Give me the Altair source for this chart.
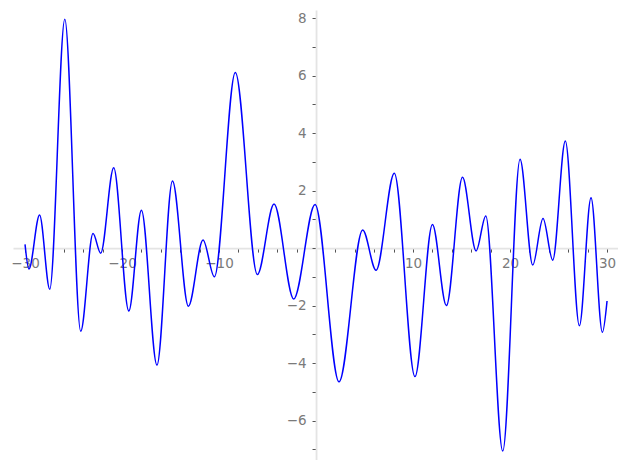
import altair as alt
import pandas as pd

# Curve key points (extrema)
xs = [-30.0, -29.6, -28.5, -27.45, -25.9, -24.26, -22.99, -22.2, -20.86, -19.3,
      -18.0, -16.4, -14.8, -13.16, -11.65, -10.48, -8.32, -6.05, -4.33, -2.3,
      -0.1, 2.37, 4.81, 6.19, 8.07, 10.2, 12.0, 13.44, 15.1, 16.5,
      17.5, 19.25, 21.03, 22.34, 23.4, 24.4, 25.7, 27.15, 28.35, 29.52, 30.0]
ys = [0.13, -0.73, 1.15, -1.43, 7.96, -2.89, 0.51, -0.18, 2.79, -2.19,
      1.32, -4.07, 2.33, -2.02, 0.28, -1.0, 6.11, -0.92, 1.53, -1.77,
      1.52, -4.65, 0.63, -0.77, 2.6, -4.47, 0.82, -2.0, 2.46, -0.1,
      1.12, -7.06, 3.09, -0.59, 1.03, -0.42, 3.72, -2.7, 1.75, -2.93, -1.84]

x_ticks = list(range(-30, 31, 2))
y_ticks = [v / 2 for v in range(-14, 17)]

x_domain = [-31.24, 31.13]
y_domain = [-7.37, 8.28]

W, H = 605, 450
x_off = -H * (0 - y_domain[0]) / (y_domain[1] - y_domain[0])
y_off = -W * (0 - x_domain[0]) / (x_domain[1] - x_domain[0])

df = pd.DataFrame({"x": xs, "y": ys})

label_color = "#7a7a7a"
common = dict(
    domainColor="#e4e4e4", domainWidth=1.8, tickColor="#555555", tickSize=4,
    tickWidth=1, labelColor=label_color, labelFont="DejaVu Sans", labelFontSize=13.5,
    grid=False, title=None, labelOverlap=False, labelFlush=False, format="d",
)

chart = alt.Chart(df).mark_line(color="#0000ff", strokeWidth=1.5, interpolate="monotone").encode(
    x=alt.X("x:Q", scale=alt.Scale(domain=x_domain, nice=False, zero=False),
            axis=alt.Axis(values=x_ticks, offset=x_off, labelPadding=4,
                          labelExpr="datum.value % 10 == 0 && datum.value != 0 ? datum.label : ''",
                          **common)),
    y=alt.Y("y:Q", scale=alt.Scale(domain=y_domain, nice=False, zero=False),
            axis=alt.Axis(values=y_ticks, offset=y_off, labelPadding=6,
                          labelExpr="datum.value % 2 == 0 && datum.value != 0 ? datum.label : ''",
                          **common)),
).properties(
    width=W, height=H,
    autosize=alt.AutoSizeParams(type="none"),
    padding={"left": 5, "top": 2, "right": 0, "bottom": 0},
).configure_view(stroke=None)

chart.save("out.html", embed_options={"renderer": "svg", "actions": False})
